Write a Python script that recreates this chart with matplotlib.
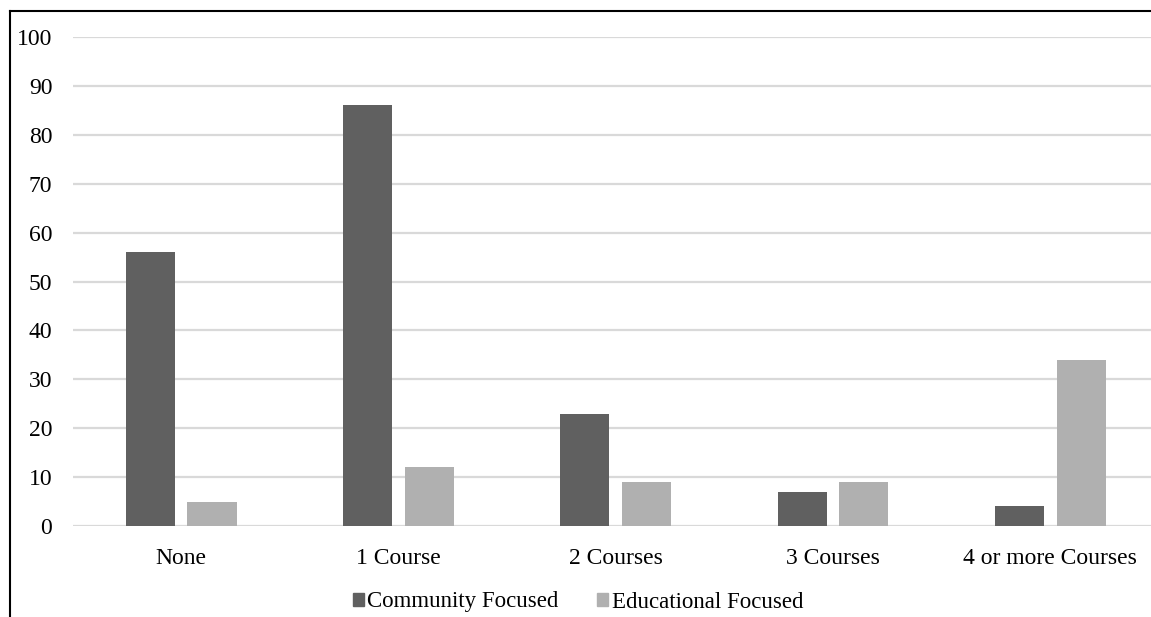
import matplotlib
matplotlib.use("Agg")
import matplotlib.pyplot as plt
from matplotlib.lines import Line2D
from matplotlib.patches import Patch
import numpy as np

categories = ["None", "1 Course", "2 Courses", "3 Courses", "4 or more Courses"]
community = [56, 86, 23, 7, 4]
educational = [5, 12, 9, 9, 34]
series_names = ["Community Focused", "Educational Focused"]
yticks = list(range(0, 101, 10))

dark = "#606060"
light = "#b0b0b0"
grid = "#d9d9d9"

plt.rcParams["font.family"] = ["Liberation Serif", "DejaVu Serif"]

W, H = 1151, 617
fig = plt.figure(figsize=(W / 100, H / 100), dpi=100)
ax = fig.add_axes([72.5 / W, 1 - 526 / H, (1159 - 72.5) / W, (526 - 37) / H])

x = np.arange(len(categories))
bw = 0.226
off = 0.142
ax.bar(x - off, community, width=bw, color=dark, zorder=3)
ax.bar(x + off, educational, width=bw, color=light, zorder=3)

ax.set_xlim(-0.5, len(categories) - 0.5)
ax.set_ylim(0, 100)
ax.set_yticks(yticks)
ax.set_xticks(x)
ax.set_xticklabels(categories)
for t in yticks:
    ax.axhline(t, color=grid, lw=1.6, zorder=1)
for s in ax.spines.values():
    s.set_visible(False)
ax.tick_params(axis="both", length=0, labelsize=17, colors="black")
ax.tick_params(axis="y", pad=14.5)
ax.tick_params(axis="x", pad=15.5)

handles = [Patch(color=dark), Patch(color=light)]
fig.legend(handles, series_names, loc="center", bbox_to_anchor=(0.502, 1 - 602 / H),
           ncol=2, frameon=False, fontsize=16.5, handlelength=0.5, handleheight=0.5,
           handletextpad=0.15, columnspacing=1.65)

# outer frame: left and top edges
fig.add_artist(Line2D([10 / W, 10 / W], [0, 1 - 11 / H], transform=fig.transFigure,
                      color="black", lw=1.5))
fig.add_artist(Line2D([10 / W, 1], [1 - 11 / H, 1 - 11 / H], transform=fig.transFigure,
                      color="black", lw=1.5))

fig.savefig("out.png", dpi=100)
